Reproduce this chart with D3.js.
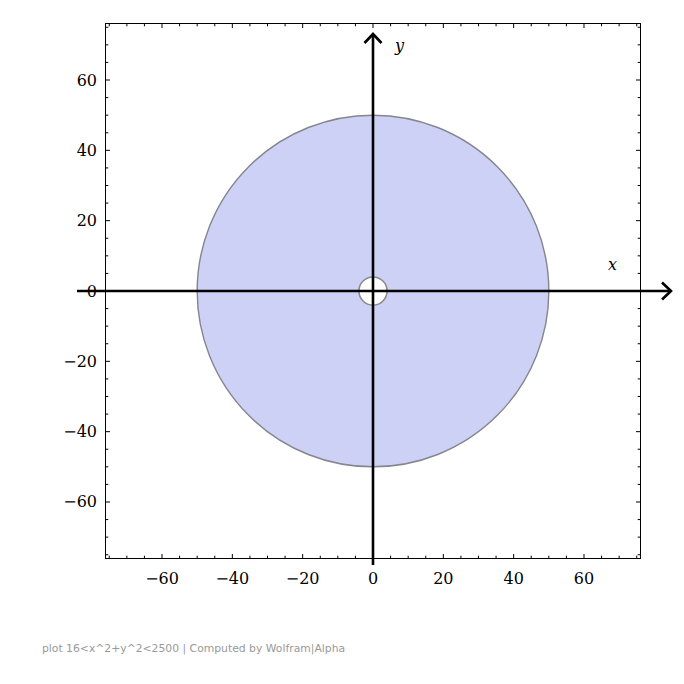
<!DOCTYPE html>
<html><head><meta charset="utf-8">
<script src="https://cdn.jsdelivr.net/npm/d3@7"></script>
<style>body{margin:0;background:#fff}svg{display:block}</style>
</head><body>
<svg id="c" width="684" height="684"></svg>
<script>
// Region: 16 < x^2 + y^2 < 2500
const rSquaredBounds = [16, 2500];
const xDomain = [-76.07, 76.07];
const yDomain = [-76.07, 76.07];
const majorTicks = [-60, -40, -20, 0, 20, 40, 60];
const minorTicks = d3.range(-75, 76, 5);
const footerText = "plot 16<x^2+y^2<2500 | Computed by Wolfram|Alpha";

const svg = d3.select("#c");
const x = d3.scaleLinear().domain(xDomain).range([105.5, 640.5]);
const y = d3.scaleLinear().domain(yDomain).range([558.5, 23.5]);
const [rIn, rOut] = rSquaredBounds.map(Math.sqrt);
const k = x(1) - x(0);

// annulus
const arc = d3.arc().innerRadius(rIn * k).outerRadius(rOut * k).startAngle(0).endAngle(2 * Math.PI);
svg.append("path").attr("d", arc()).attr("transform", `translate(${x(0)},${y(0)})`)
  .attr("fill", "#cdd1f5").attr("stroke", "none");
svg.append("circle").attr("cx", x(0)).attr("cy", y(0)).attr("r", rOut * k)
  .attr("fill", "none").attr("stroke", "#85858f").attr("stroke-width", 1.4);
svg.append("circle").attr("cx", x(0)).attr("cy", y(0)).attr("r", rIn * k)
  .attr("fill", "#fff").attr("stroke", "#8a8a8a").attr("stroke-width", 1.6);

// frame with inward ticks
const frame = svg.append("g");
frame.append("rect").attr("x", 105.5).attr("y", 23.5).attr("width", 535).attr("height", 535)
  .attr("fill", "none").attr("stroke", "#000").attr("stroke-width", 1);
const tlen = v => (v % 20 === 0 ? 4.5 : 2.8);
const tg = frame.append("g").attr("stroke", "#000").attr("stroke-width", 1);
minorTicks.forEach(v => {
  const L = tlen(v);
  tg.append("line").attr("x1", x(v)).attr("x2", x(v)).attr("y1", 558.5).attr("y2", 558.5 - L);
  tg.append("line").attr("x1", x(v)).attr("x2", x(v)).attr("y1", 23.5).attr("y2", 23.5 + L);
  tg.append("line").attr("y1", y(v)).attr("y2", y(v)).attr("x1", 105.5).attr("x2", 105.5 + L);
  tg.append("line").attr("y1", y(v)).attr("y2", y(v)).attr("x1", 640.5).attr("x2", 640.5 - L);
});

// tick labels
const fmt = v => (v < 0 ? "\u2212" + Math.abs(v) : String(v));
const lab = svg.append("g").attr("font-family", "DejaVu Serif").attr("font-size", 16).attr("fill", "#000");
majorTicks.forEach(v => {
  lab.append("text").attr("x", x(v)).attr("y", 584).attr("text-anchor", "middle").text(fmt(v));
  lab.append("text").attr("x", 97).attr("y", y(v) + 5.5).attr("text-anchor", "end").text(fmt(v));
});

// axes with arrows
const ax = svg.append("g").attr("stroke", "#000").attr("stroke-width", 2.6).attr("fill", "none");
ax.append("line").attr("x1", 77).attr("x2", 671).attr("y1", y(0)).attr("y2", y(0));
ax.append("line").attr("x1", x(0)).attr("x2", x(0)).attr("y1", 565).attr("y2", 34);
ax.append("path").attr("d", `M${x(0) - 8.5},${43} L${x(0)},${34} L${x(0) + 8.5},${43}`);
ax.append("path").attr("d", `M${662},${y(0) - 8.5} L${671},${y(0)} L${662},${y(0) + 8.5}`);

svg.append("text").attr("x", 395).attr("y", 51).attr("font-family", "DejaVu Serif").attr("font-style", "italic")
  .attr("font-size", 16).text("y");
svg.append("text").attr("x", 608).attr("y", 270).attr("font-family", "DejaVu Serif").attr("font-style", "italic")
  .attr("font-size", 16).text("x");

svg.append("text").attr("x", 42).attr("y", 652).attr("font-family", "DejaVu Sans").attr("font-size", 10.8)
  .attr("fill", "#999").text(footerText);
</script>
</body></html>
